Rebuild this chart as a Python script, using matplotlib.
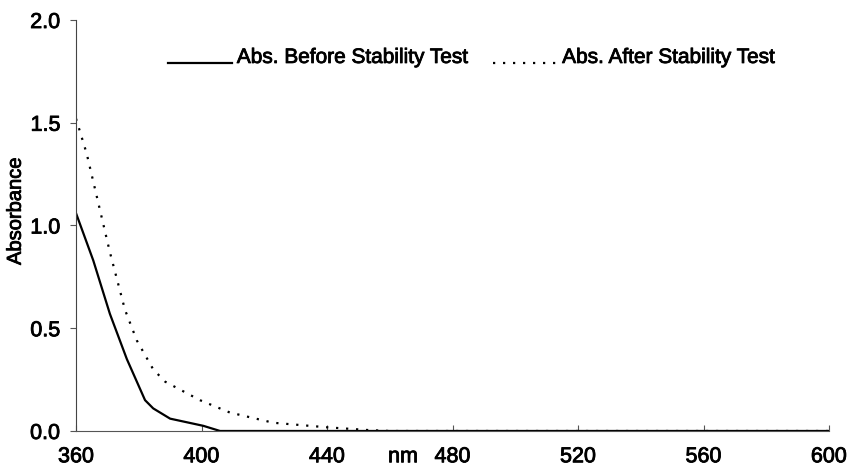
import matplotlib.pyplot as plt
import matplotlib.patheffects as pe
from matplotlib.legend_handler import HandlerLine2D
import numpy as np

plt.rcParams['font.family'] = ['Liberation Sans', 'DejaVu Sans']

# absorbance spectra
wl_before = [360, 365.5, 370.8, 376.2, 382, 384.6, 390, 400.6, 405.9, 420, 500, 600]
abs_before = [1.06, 0.83, 0.57, 0.35, 0.15, 0.11, 0.06, 0.025, 0.0, 0.0, 0.0, 0.0]

wl_after = [360, 363.4, 370.8, 375.6, 379.4, 384.6, 388.4, 399.5, 409, 422.9, 439.9, 452.6, 460, 600]
abs_after = [1.52, 1.35, 0.87, 0.59, 0.44, 0.30, 0.24, 0.15, 0.09, 0.04, 0.018, 0.005, 0.0, 0.0]

xticks = [360, 400, 440, 480, 520, 560, 600]
yticks = [0.0, 0.5, 1.0, 1.5, 2.0]

heavy = [pe.withStroke(linewidth=0.6, foreground='black')]


class LowLine(HandlerLine2D):
    # legend line sits on the text baseline, like an underscore
    def create_artists(self, legend, orig_handle, xdescent, ydescent,
                       width, height, fontsize, trans):
        arts = super().create_artists(legend, orig_handle, xdescent, ydescent,
                                      width, height, fontsize, trans)
        for a in arts:
            a.set_ydata(np.zeros(len(a.get_xdata())))
        return arts


fig = plt.figure(figsize=(8.55, 4.72), dpi=100)
ax = fig.add_axes([0.0889, 0.0869, 0.8807, 0.8707])

ax.plot(wl_before, abs_before, color='black', lw=1.6, label='Abs. Before Stability Test')
ax.plot(wl_after, abs_after, color='black', lw=1.6, linestyle=(0, (1, 3.5)),
        label='Abs. After Stability Test')

ax.set_xlim(360, 600)
ax.set_ylim(0, 2.0)
ax.set_xticks(xticks)
ax.set_yticks(yticks)
ax.set_yticklabels(['%.1f' % v for v in yticks])

for s in ['top', 'right']:
    ax.spines[s].set_visible(False)
ax.spines['left'].set_color('#444444')
ax.spines['bottom'].set_color('#555555')
ax.spines['left'].set_linewidth(0.8)
ax.spines['bottom'].set_linewidth(0.8)

ax.tick_params(axis='x', direction='in', length=4, pad=11, labelsize=15.5, color='#555555')
ax.tick_params(axis='y', direction='out', length=4.3, pad=7, labelsize=15.5, color='#555555')
for t in ax.get_xticklabels() + ax.get_yticklabels():
    t.set_path_effects(heavy)

ax.set_ylabel('Absorbance', fontsize=14.5, path_effects=heavy)
ax.yaxis.set_label_coords(-0.068, 0.535)
ax.annotate('nm', xy=(464.2, 0), xycoords=('data', 'axes fraction'),
            xytext=(0, -11), textcoords='offset points', ha='center', va='top',
            fontsize=15.5, path_effects=heavy, annotation_clip=False)

leg = ax.legend(loc='upper left', bbox_to_anchor=(0.122, 0.932), ncol=2, frameon=False,
                fontsize=15, handlelength=3.07, handletextpad=0.24, columnspacing=1.2,
                borderpad=0, borderaxespad=0,
                handler_map={plt.Line2D: LowLine()})
for t in leg.get_texts():
    t.set_path_effects(heavy)

fig.savefig('out.png', dpi=100)
